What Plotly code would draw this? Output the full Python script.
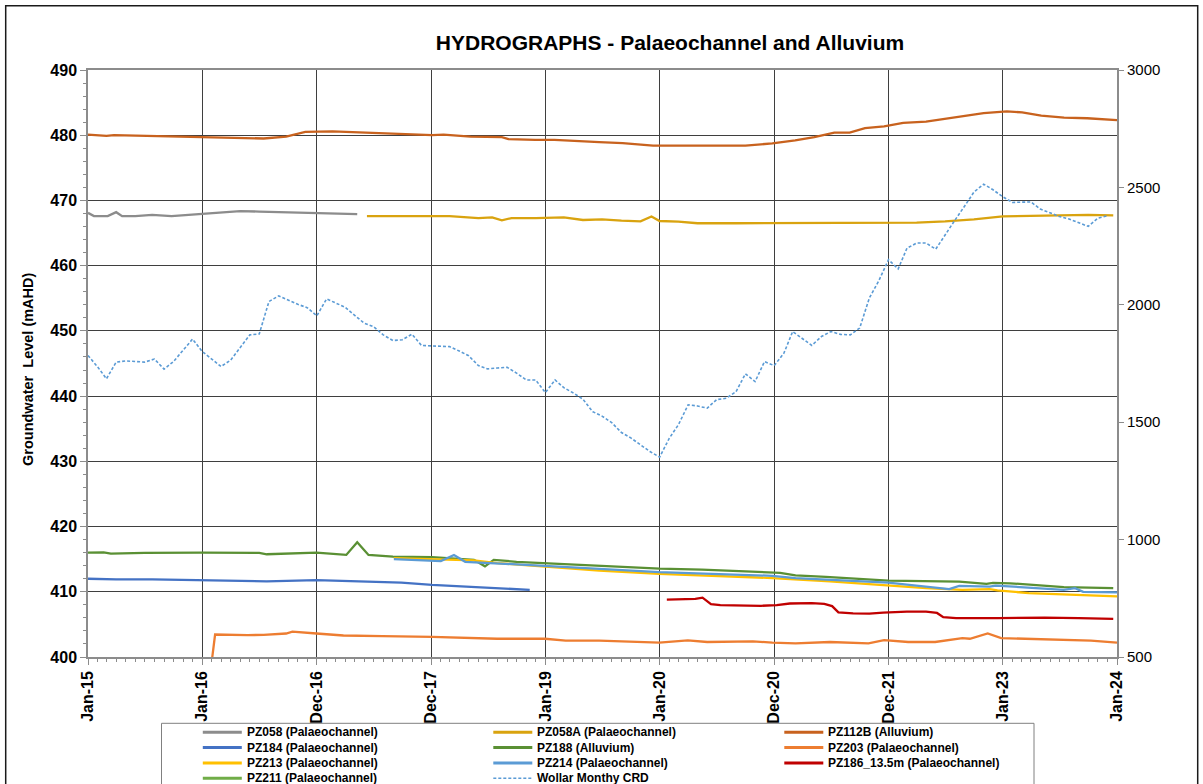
import pandas as pd
import plotly.graph_objects as go

# ---------------- groundwater levels (mAHD) ----------------
pz058_dates = ["2015-01-01", "2015-01-20", "2015-03-05", "2015-04-01", "2015-04-20", "2015-06-01",
               "2015-07-25", "2015-09-25", "2016-01-01", "2016-05-01", "2016-07-01", "2017-01-01",
               "2017-05-10"]
pz058_vals = [468.1, 467.6, 467.6, 468.2, 467.6, 467.6, 467.8, 467.6, 467.95, 468.35, 468.3, 468.1, 467.9]

pz058a_dates = ["2017-06-10", "2017-09-01", "2017-12-01", "2018-03-01", "2018-06-01", "2018-07-15",
                "2018-08-15", "2018-09-15", "2018-12-01", "2019-03-01", "2019-05-01", "2019-07-01",
                "2019-09-01", "2019-11-01", "2019-12-06", "2020-01-01", "2020-03-01", "2020-05-01",
                "2020-09-01", "2021-01-01", "2021-06-01", "2021-07-01", "2021-10-01", "2022-01-01",
                "2022-04-01", "2022-07-01", "2022-10-01", "2023-01-01", "2023-04-01", "2023-07-01",
                "2023-10-01", "2023-12-20"]
pz058a_vals = [467.6, 467.6, 467.5, 467.6, 467.3, 467.4, 466.95, 467.3, 467.3, 467.4, 467.0, 467.1,
               466.9, 466.8, 467.55, 466.85, 466.75, 466.5, 466.5, 466.5, 466.5, 466.6, 466.5, 466.5,
               466.6, 466.8, 467.1, 467.55, 467.65, 467.75, 467.8, 467.7]

pz112b_dates = ["2015-01-01", "2015-03-01", "2015-03-25", "2015-07-25", "2016-01-01", "2016-05-25",
                "2016-07-15", "2016-09-25", "2016-11-25", "2017-02-20", "2017-05-30", "2017-09-28",
                "2018-01-04", "2018-02-10", "2018-05-07", "2018-08-15", "2018-09-05", "2018-11-30",
                "2019-01-30", "2019-06-22", "2019-09-05", "2019-12-11", "2020-02-23", "2020-06-01",
                "2020-10-01", "2020-12-26", "2021-03-09", "2021-05-09", "2021-07-12", "2021-08-30",
                "2021-10-18", "2021-12-18", "2022-02-17", "2022-05-01", "2022-08-07", "2022-11-01",
                "2023-01-14", "2023-03-04", "2023-05-04", "2023-07-16", "2023-09-28", "2023-11-17",
                "2024-01-01"]
pz112b_vals = [480.1, 479.9, 480.0, 479.9, 479.7, 479.6, 479.5, 479.8, 480.5, 480.6, 480.4, 480.2,
               480.0, 480.1, 479.8, 479.7, 479.4, 479.3, 479.3, 478.95, 478.8, 478.4, 478.4, 478.4,
               478.4, 478.75, 479.2, 479.7, 480.4, 480.4, 481.1, 481.35, 481.9, 482.1, 482.8, 483.4,
               483.65, 483.5, 483.0, 482.7, 482.6, 482.5, 482.3]

pz184_dates = ["2015-01-01", "2015-04-01", "2015-07-25", "2016-01-01", "2016-07-25", "2016-12-31",
               "2017-05-30", "2017-09-28", "2018-01-04", "2018-05-30", "2018-08-01", "2018-11-12"]
pz184_vals = [412.0, 411.9, 411.9, 411.8, 411.6, 411.8, 411.6, 411.4, 411.05, 410.7, 410.6, 410.3]

pz188_dates = ["2015-01-01", "2015-02-20", "2015-03-15", "2015-07-01", "2016-01-01", "2016-07-01",
               "2016-07-25", "2016-12-31", "2017-04-05", "2017-05-10", "2017-06-15", "2017-09-01",
               "2018-01-04", "2018-05-18", "2018-06-22", "2018-07-20", "2018-10-01", "2019-01-05",
               "2019-06-22", "2020-01-01", "2020-05-15", "2020-11-20", "2021-01-20", "2021-03-10",
               "2021-06-15", "2021-12-31", "2022-05-01", "2022-08-15", "2022-11-10", "2022-12-01",
               "2023-01-25", "2023-05-01", "2023-07-15", "2023-12-20"]
pz188_vals = [416.0, 416.05, 415.85, 415.95, 416.0, 415.95, 415.75, 416.0, 415.65, 417.6, 415.65, 415.4,
              415.3, 414.9, 413.9, 414.9, 414.6, 414.4, 414.0, 413.55, 413.4, 412.95, 412.9, 412.5,
              412.3, 411.7, 411.65, 411.55, 411.2, 411.35, 411.3, 410.9, 410.7, 410.55]

pz203_dates = ["2016-02-01", "2016-02-11", "2016-05-25", "2016-07-15", "2016-09-25", "2016-10-15",
               "2016-12-31", "2017-03-27", "2017-07-29", "2018-01-04", "2018-07-31", "2018-12-31",
               "2019-03-07", "2019-06-22", "2019-12-31", "2020-03-31", "2020-06-01", "2020-10-25",
               "2020-12-26", "2021-03-10", "2021-06-28", "2021-10-29", "2021-12-18", "2022-03-05",
               "2022-05-30", "2022-08-25", "2022-09-18", "2022-11-14", "2022-12-27", "2023-05-04",
               "2023-08-10", "2023-10-10", "2024-01-01"]
pz203_vals = [399.6, 403.45, 403.35, 403.4, 403.6, 403.9, 403.6, 403.3, 403.2, 403.1, 402.8, 402.8,
              402.5, 402.5, 402.2, 402.55, 402.3, 402.4, 402.2, 402.1, 402.3, 402.1, 402.6, 402.3,
              402.3, 402.9, 402.8, 403.6, 402.9, 402.7, 402.5, 402.5, 402.2]

pz213_dates = ["2017-09-04", "2018-01-04", "2018-05-18", "2018-07-31", "2018-12-31", "2019-06-22",
               "2019-12-31", "2020-12-26", "2021-06-28", "2021-12-31", "2022-05-01", "2022-08-25",
               "2022-11-20", "2022-12-15", "2023-03-25", "2024-01-01"]
pz213_vals = [415.15, 415.0, 414.8, 414.4, 413.9, 413.25, 412.75, 412.1, 411.6, 410.9, 410.55, 410.3,
              410.4, 410.2, 409.8, 409.3]

pz214_dates = ["2017-09-04", "2018-02-01", "2018-03-15", "2018-04-20", "2018-10-01", "2019-06-22",
               "2019-12-31", "2020-12-26", "2021-03-10", "2021-12-31", "2022-03-10", "2022-07-14",
               "2022-08-15", "2022-11-20", "2022-12-10", "2023-04-15", "2023-07-15", "2023-08-20",
               "2023-09-15", "2024-01-01"]
pz214_vals = [415.0, 414.7, 415.65, 414.6, 414.2, 413.5, 413.0, 412.45, 412.1, 411.4, 411.05, 410.4,
              410.9, 410.8, 410.95, 410.55, 410.3, 410.55, 410.0, 409.9]

pz186_dates = ["2020-01-24", "2020-03-05", "2020-04-24", "2020-05-17", "2020-05-29", "2020-06-13",
               "2020-07-13", "2020-08-22", "2020-10-01", "2020-11-20", "2021-01-09", "2021-02-20",
               "2021-05-01", "2021-06-10", "2021-07-05", "2021-07-25", "2021-09-10", "2021-11-01",
               "2021-12-15", "2022-03-01", "2022-05-01", "2022-06-05", "2022-06-25", "2022-08-05",
               "2022-12-15", "2023-05-15", "2023-09-01", "2023-12-20"]
pz186_vals = [408.8, 408.85, 408.9, 409.1, 408.6, 408.1, 407.95, 407.9, 407.8, 407.85, 407.95, 408.2,
              408.25, 408.15, 407.8, 406.85, 406.7, 406.65, 406.8, 406.95, 406.95, 406.75, 406.1, 405.95,
              405.95, 406.05, 405.95, 405.85]

pz211_dates = []
pz211_vals = []

# ---------------- Wollar monthly cumulative rainfall deviation ----------------
crd_vals = [1784, 1735, 1685, 1756, 1761, 1759, 1756, 1769, 1726, 1758, 1806, 1854,   # 2015
            1801, 1769, 1737, 1765, 1818, 1872, 1876, 2014, 2038, 2020, 2002, 1988,   # 2016
            1953, 2025, 2007, 1990, 1956, 1922, 1907, 1872, 1848, 1851, 1875, 1827,   # 2017
            1825, 1823, 1822, 1803, 1783, 1741, 1727, 1731, 1734, 1709, 1680, 1680,   # 2018
            1626, 1680, 1647, 1624, 1598, 1545, 1526, 1498, 1456, 1433, 1404, 1375,   # 2019
            1351, 1432, 1489, 1574, 1569, 1560, 1596, 1602, 1630, 1706, 1673, 1758,   # 2020
            1741, 1794, 1886, 1857, 1827, 1865, 1886, 1874, 1872, 1901, 2029, 2102,   # 2021
            2192, 2153, 2241, 2263, 2263, 2237, 2300, 2360, 2420, 2480, 2514, 2490,   # 2022
            2460, 2436, 2437, 2438, 2408, 2390, 2376, 2365, 2348, 2334, 2369, 2379]   # 2023
crd_dates = pd.date_range("2015-01-01", periods=len(crd_vals), freq="MS")

# ---------------- axis ticks ----------------
x_tick_vals = ["2015-01-01", "2016-01-01", "2016-12-31 12:00", "2017-12-31 18:00", "2019-01-01",
               "2020-01-01 06:00", "2020-12-31 12:00", "2021-12-31 18:00", "2023-01-01", "2024-01-01"]
x_tick_text = ["Jan-15", "Jan-16", "Dec-16", "Dec-17", "Jan-19",
               "Jan-20", "Dec-20", "Dec-21", "Jan-23", "Jan-24"]

series = [
    ("PZ058 (Palaeochannel)", pz058_dates, pz058_vals, "#8c8c8c", "solid", "y"),
    ("PZ058A (Palaeochannel)", pz058a_dates, pz058a_vals, "#d9a30f", "solid", "y"),
    ("PZ112B (Alluvium)", pz112b_dates, pz112b_vals, "#c8621e", "solid", "y"),
    ("PZ184 (Palaeochannel)", pz184_dates, pz184_vals, "#4472c4", "solid", "y"),
    ("PZ188 (Alluvium)", pz188_dates, pz188_vals, "#5a9034", "solid", "y"),
    ("PZ203 (Palaeochannel)", pz203_dates, pz203_vals, "#ed7d31", "solid", "y"),
    ("PZ213 (Palaeochannel)", pz213_dates, pz213_vals, "#ffc000", "solid", "y"),
    ("PZ214 (Palaeochannel)", pz214_dates, pz214_vals, "#5b9bd5", "solid", "y"),
    ("PZ186_13.5m (Palaeochannel)", pz186_dates, pz186_vals, "#c00000", "solid", "y"),
    ("PZ211 (Palaeochannel)", pz211_dates, pz211_vals, "#70ad47", "solid", "y"),
    ("Wollar Monthy CRD", crd_dates, crd_vals, "#5b9bd5", "3px,2px", "y2"),
]

W, H = 1203, 784
ML, MR, MT, MB = 88, 86, 70, 127
PW, PH = W - ML - MR, H - MT - MB
FONT = "Liberation Sans, Arial, sans-serif"


def px_x(px):
    return (px - ML) / PW


def px_y(py):
    return (H - MB - py) / PH


fig = go.Figure()
for name, xs, ys, color, dash, yax in series:
    fig.add_trace(go.Scatter(
        x=xs, y=ys, name=name, mode="lines", yaxis=yax, showlegend=False,
        line=dict(color=color, width=1.6 if yax == "y2" else 2.3, dash=dash),
    ))

GRID = "#3f3f3f"
AXLINE = "#8c8c8c"

fig.update_layout(
    width=W, height=H,
    margin=dict(l=ML, r=MR, t=MT, b=MB),
    paper_bgcolor="white", plot_bgcolor="white",
    font=dict(family=FONT, color="black"),
    title=dict(text="HYDROGRAPHS - Palaeochannel and Alluvium",
               font=dict(size=21, weight="bold", color="black"),
               x=670 / W, xanchor="center", y=1 - 43 / H, yanchor="middle"),
    xaxis=dict(
        type="date", range=["2015-01-01", "2024-01-01"],
        tickmode="array", tickvals=x_tick_vals, ticktext=x_tick_text,
        tickangle=-90, tickfont=dict(size=16, weight="bold", color="black"),
        showgrid=True, gridcolor=GRID, gridwidth=1,
        showline=True, linecolor=AXLINE, linewidth=1.5, mirror=True,
        ticks="outside", ticklen=6, tickcolor=AXLINE,
        minor=dict(tickmode="linear", tick0="2015-01-01", dtick="M1",
                   ticks="outside", ticklen=3, tickcolor=AXLINE, showgrid=False),
        zeroline=False,
    ),
    yaxis=dict(
        range=[400, 490], tickmode="linear", tick0=400, dtick=10,
        tickfont=dict(size=16, weight="bold", color="black"),
        showgrid=True, gridcolor=GRID, gridwidth=1,
        showline=True, linecolor=AXLINE, linewidth=1.5,
        ticks="outside", ticklen=6, tickcolor=AXLINE,
        minor=dict(dtick=2, ticks="outside", ticklen=3, tickcolor=AXLINE, showgrid=False),
        zeroline=False,
    ),
    yaxis2=dict(
        range=[500, 3000], tickmode="linear", tick0=500, dtick=500,
        overlaying="y", side="right",
        tickfont=dict(size=15, color="black"),
        showgrid=False, showline=True, linecolor=AXLINE, linewidth=2,
        ticks="outside", ticklen=5, tickcolor=AXLINE, zeroline=False,
    ),
)

# y-axis title
fig.add_annotation(text="Groundwater\u00a0 Level (mAHD)", textangle=-90,
                   xref="paper", yref="paper", x=px_x(28), y=px_y(369),
                   xanchor="center", yanchor="middle", showarrow=False,
                   font=dict(size=14.5, weight="bold", color="black"))

# outer chart frame
fig.add_shape(type="rect", xref="paper", yref="paper",
              x0=px_x(5.7), x1=px_x(1197.7), y0=px_y(820), y1=px_y(5.7),
              line=dict(color="#1a1a1a", width=1.5), fillcolor="rgba(0,0,0,0)", layer="above")

# legend box with three columns of entries
fig.add_shape(type="rect", xref="paper", yref="paper",
              x0=px_x(161.5), x1=px_x(1034), y0=px_y(820), y1=px_y(723.3),
              line=dict(color="#808080", width=1), fillcolor="white", layer="above")
col_x = [202.8, 493.3, 784.3]
for i, (name, xs, ys, color, dash, yax) in enumerate(series):
    cx = col_x[i % 3]
    cy = 732.3 + (i // 3) * 15.3
    fig.add_shape(type="line", xref="paper", yref="paper",
                  x0=px_x(cx), x1=px_x(cx + 39), y0=px_y(cy), y1=px_y(cy),
                  line=dict(color=color, width=1.6 if yax == "y2" else 3,
                            dash="3px,2px" if yax == "y2" else "solid"),
                  layer="above")
    fig.add_annotation(text=name, xref="paper", yref="paper",
                       x=px_x(cx + 42), y=px_y(cy), xanchor="left", yanchor="middle",
                       showarrow=False, font=dict(size=12, weight="bold", color="black"))

fig.write_html("out.html")
